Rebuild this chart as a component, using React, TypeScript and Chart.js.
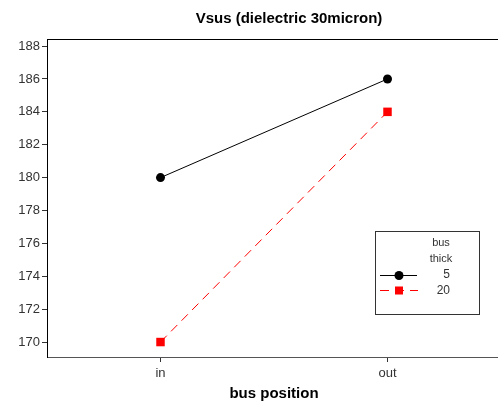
import React, { useEffect, useRef } from "react";
import { Chart, registerables } from "chart.js";

Chart.register(...registerables);

const categories = ["in", "out"];
const thick5 = [180, 186];
const thick20 = [170, 184];
const seriesLabels = ["5", "20"];
const yTicks = [170, 172, 174, 176, 178, 180, 182, 184, 186, 188];
const titleText = "Vsus (dielectric 30micron)";
const xTitle = "bus position";
const legendTitle = ["bus", "thick"];

const overlayPlugin = {
  id: "overlay",
  afterDraw(chart: any) {
    const ctx = chart.ctx;
    const a = chart.chartArea;
    ctx.save();
    // top border
    ctx.strokeStyle = "#000";
    ctx.lineWidth = 1;
    ctx.beginPath();
    ctx.moveTo(a.left, a.top + 0.5);
    ctx.lineTo(chart.width, a.top + 0.5);
    ctx.stroke();
    // title
    ctx.fillStyle = "#000";
    ctx.font = "bold 15px 'Liberation Sans', Arial, sans-serif";
    ctx.textAlign = "center";
    ctx.textBaseline = "middle";
    ctx.fillText(titleText, 289, 19);
    // legend box
    const bx = 375, by = 231, bw = 104, bh = 83;
    ctx.fillStyle = "#fff";
    ctx.fillRect(bx, by, bw, bh);
    ctx.strokeStyle = "#333";
    ctx.strokeRect(bx + 0.5, by + 0.5, bw, bh);
    ctx.fillStyle = "#333";
    ctx.font = "11px 'Liberation Sans', Arial, sans-serif";
    ctx.textAlign = "center";
    ctx.fillText(legendTitle[0], 441, 243);
    ctx.fillText(legendTitle[1], 441, 259);
    ctx.textAlign = "right";
    ctx.font = "12px 'Liberation Sans', Arial, sans-serif";
    ctx.fillText(seriesLabels[0], 450, 275);
    ctx.fillText(seriesLabels[1], 450, 291);
    // sample lines
    ctx.strokeStyle = "#000";
    ctx.beginPath();
    ctx.moveTo(380, 275.5);
    ctx.lineTo(417, 275.5);
    ctx.stroke();
    ctx.fillStyle = "#000";
    ctx.beginPath();
    ctx.arc(399, 275.5, 4.5, 0, Math.PI * 2);
    ctx.fill();
    ctx.strokeStyle = "#f00";
    ctx.setLineDash([9, 6]);
    ctx.beginPath();
    ctx.moveTo(380, 290.5);
    ctx.lineTo(418, 290.5);
    ctx.stroke();
    ctx.setLineDash([]);
    ctx.fillStyle = "#f00";
    ctx.fillRect(395, 286.5, 8, 8);
    ctx.restore();
  },
};

export default function App() {
  const ref = useRef<HTMLCanvasElement>(null);
  useEffect(() => {
    document.body.style.margin = "0";
    const tickFont = { family: "'Liberation Sans', Arial, sans-serif", size: 13 };
    const chart = new Chart(ref.current!, {
      type: "line",
      data: {
        labels: categories,
        datasets: [
          {
            label: seriesLabels[0],
            data: thick5,
            borderColor: "#000",
            backgroundColor: "#000",
            borderWidth: 1,
            pointStyle: "circle",
            pointRadius: 4.5,
            pointBorderWidth: 0,
          },
          {
            label: seriesLabels[1],
            data: thick20,
            borderColor: "#f00",
            backgroundColor: "#f00",
            borderWidth: 1,
            borderDash: [9, 6],
            pointStyle: "rect",
            pointRadius: 6,
            pointBorderWidth: 0,
          },
        ],
      },
      options: {
        animation: false,
        responsive: false,
        layout: { padding: { top: 39, right: 0, left: 0, bottom: 0 } },
        plugins: {
          legend: { display: false },
          title: { display: false },
          tooltip: { enabled: false },
        },
        scales: {
          x: {
            type: "category",
            offset: true,
            grid: { display: true, drawOnChartArea: false, drawTicks: true, tickLength: 5, color: "#333" },
            border: { display: true, color: "#555", width: 1 },
            ticks: { font: tickFont, color: "#333", padding: 4 },
            title: {
              display: true,
              text: xTitle,
              font: { family: "'Liberation Sans', Arial, sans-serif", size: 15, weight: "bold" },
              color: "#000",
              padding: { top: 0, bottom: 0 },
            },
            afterFit(scale: any) {
              scale.height = 46;
            },
          },
          y: {
            type: "linear",
            min: 169.09,
            max: 188.43,
            grid: { display: true, drawOnChartArea: false, drawTicks: true, tickLength: 5, color: "#333" },
            border: { display: true, color: "#000", width: 1 },
            ticks: { font: tickFont, color: "#333", padding: 2 },
            afterBuildTicks(scale: any) {
              scale.ticks = yTicks.map((v) => ({ value: v }));
            },
            afterFit(scale: any) {
              scale.width = 47;
            },
          },
        },
      },
      plugins: [overlayPlugin],
    } as any);
    return () => chart.destroy();
  }, []);
  return (
    <div style={{ width: 498, height: 403, overflow: "hidden" }}>
      <canvas ref={ref} width={507} height={403} style={{ display: "block" }} />
    </div>
  );
}
